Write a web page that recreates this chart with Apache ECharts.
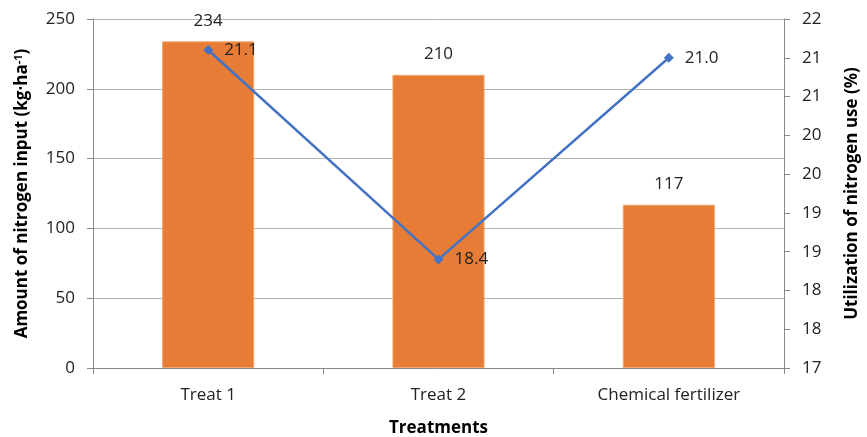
<!DOCTYPE html>
<html lang="en">
<head>
    <meta charset="UTF-8">
    <title>nitrogen</title>
    <script src="https://cdn.jsdelivr.net/npm/echarts@6/dist/echarts.min.js"></script>
    <style>
        html, body { margin: 0; padding: 0; background: #fff; }
        #main { width: 867px; height: 437px; }
    </style>
</head>
<body>
<div id="main"></div>
<script type="text/javascript">
    const categories = ['Treat 1', 'Treat 2', 'Chemical fertilizer'];
    const nitrogenInput = [234, 210, 117];
    const utilization = [21.1, 18.4, 21.0];

    const font = '"Open Sans", "Noto Sans", sans-serif';

    let myChart = echarts.init(document.getElementById('main'));
    const option = {
        animation: false,
        textStyle: { fontFamily: font },
        grid: { left: 93, right: 83, top: 19, bottom: 69, outerBoundsMode: 'none' },
        xAxis: {
            type: 'category',
            data: categories,
            name: 'Treatments',
            nameLocation: 'middle',
            nameGap: 52,
            nameTextStyle: { fontSize: 17, fontWeight: 'bold', color: '#000', fontFamily: font },
            axisLine: { lineStyle: { color: '#888' } },
            axisTick: { show: true, length: 6, lineStyle: { color: '#888' } },
            axisLabel: { fontSize: 17, color: '#222', margin: 19, fontFamily: font }
        },
        yAxis: [{
            type: 'value',
            min: 0, max: 250, interval: 50,
            name: 'Amount of nitrogen input (kg·ha{sup|-1})',
            nameLocation: 'middle',
            nameRotate: 90,
            nameGap: 62,
            nameTextStyle: {
                fontSize: 17, fontWeight: 'bold', color: '#000', fontFamily: font,
                rich: { sup: { fontSize: 11, fontWeight: 'bold', verticalAlign: 'top', padding: [0, 0, 7, 0] } }
            },
            axisLine: { show: true, lineStyle: { color: '#888' } },
            axisTick: { show: true, length: 6, lineStyle: { color: '#888' } },
            axisLabel: { fontSize: 17, color: '#222', margin: 18, fontFamily: font },
            splitLine: { lineStyle: { color: '#b4b4b4' } }
        }, {
            type: 'value',
            min: 17, max: 21.5, interval: 0.5,
            name: 'Utilization of nitrogen use (%)',
            nameLocation: 'middle',
            nameRotate: 90,
            nameGap: 60,
            nameTextStyle: { fontSize: 17, fontWeight: 'bold', color: '#000', fontFamily: font },
            axisLine: { show: true, lineStyle: { color: '#888' } },
            axisTick: { show: true, length: 6, lineStyle: { color: '#888' } },
            axisLabel: { fontSize: 17, color: '#222', margin: 18, fontFamily: font,
                formatter: v => Math.round(v).toString() },
            splitLine: { show: false }
        }],
        series: [{
            name: 'Amount of nitrogen input',
            type: 'bar',
            data: nitrogenInput,
            barWidth: '40%',
            itemStyle: { color: '#E67C35', borderColor: '#F2A66F', borderWidth: 1 },
            label: { show: true, position: 'top', distance: 12, fontSize: 17, color: '#222', fontFamily: font }
        }, {
            name: 'Utilization of nitrogen use',
            type: 'line',
            yAxisIndex: 1,
            data: utilization,
            symbol: 'diamond',
            symbolSize: 10,
            lineStyle: { color: '#4472C4', width: 2.5 },
            itemStyle: { color: '#4472C4' },
            label: { show: true, position: 'right', distance: 11, fontSize: 17, color: '#222', fontFamily: font,
                formatter: p => p.value.toFixed(1) }
        }]
    };
    myChart.setOption(option);
</script>
</body>
</html>
